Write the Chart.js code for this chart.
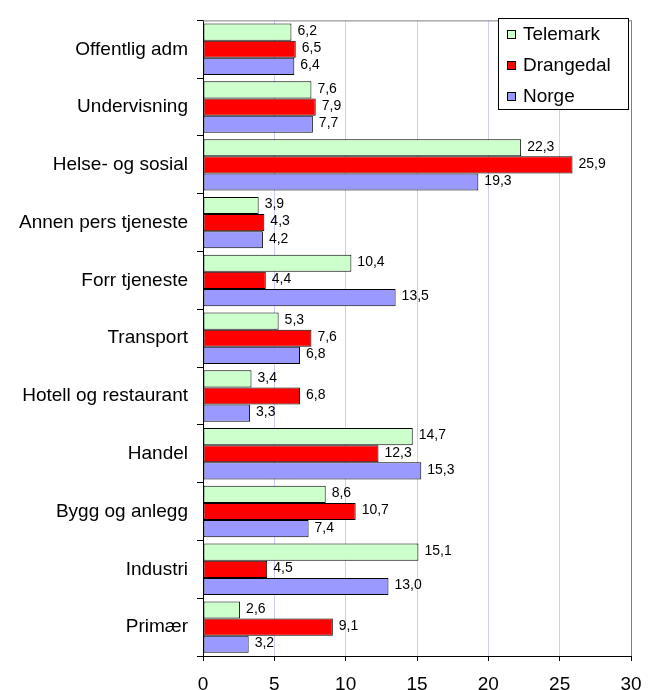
<!DOCTYPE html>
<html>
<head>
<meta charset="utf-8">
<script src="https://cdn.jsdelivr.net/npm/chart.js@4/dist/chart.umd.min.js"></script>
<style>
    html, body { margin: 0; padding: 0; background: #fff; }
    #wrap { width: 655px; height: 690px; }
</style>
</head>
<body>
<div id="wrap"><canvas id="sektorChart" width="655" height="690"></canvas></div>
<script>
// --- Datos ---
const categories = ['Offentlig adm', 'Undervisning', 'Helse- og sosial', 'Annen pers tjeneste', 'Forr tjeneste',
    'Transport', 'Hotell og restaurant', 'Handel', 'Bygg og anlegg', 'Industri', 'Primær'];
const seriesNames = ['Telemark', 'Drangedal', 'Norge'];
const telemark = [6.2, 7.6, 22.3, 3.9, 10.4, 5.3, 3.4, 14.7, 8.6, 15.1, 2.6];
const drangedal = [6.5, 7.9, 25.9, 4.3, 4.4, 7.6, 6.8, 12.3, 10.7, 4.5, 9.1];
const norge = [6.4, 7.7, 19.3, 4.2, 13.5, 6.8, 3.3, 15.3, 7.4, 13.0, 3.2];
const xTicks = [0, 5, 10, 15, 20, 25, 30];

const FONT = '"Liberation Sans", Arial, sans-serif';
const colors = ['#CCFFCC', '#FF0000', '#9999FF'];

// --- Plugins ---
// Etiquetas de valor al final de cada barra
const valueLabels = {
    id: 'valueLabels',
    afterDatasetsDraw(chart) {
        const ctx = chart.ctx;
        ctx.save();
        ctx.font = '14px ' + FONT;
        ctx.fillStyle = '#000';
        ctx.textAlign = 'left';
        ctx.textBaseline = 'middle';
        chart.data.datasets.forEach((ds, i) => {
            chart.getDatasetMeta(i).data.forEach((bar, j) => {
                const txt = ds.data[j].toFixed(1).replace('.', ',');
                ctx.fillText(txt, bar.x + 6, bar.y - 1);
            });
        });
        ctx.restore();
    }
};

// Borde gris del área de gráfico y leyenda con marco
const frameAndLegend = {
    id: 'frameAndLegend',
    beforeDatasetsDraw(chart) {
        const a = chart.chartArea;
        const ctx = chart.ctx;
        ctx.save();
        ctx.strokeStyle = '#808080';
        ctx.lineWidth = 1;
        ctx.beginPath();
        ctx.moveTo(a.left, a.top + 0.5);
        ctx.lineTo(a.right + 0.5, a.top + 0.5);
        ctx.lineTo(a.right + 0.5, a.bottom);
        ctx.stroke();
        ctx.restore();
    },
    afterDraw(chart) {
        const ctx = chart.ctx;
        const bx = 498, by = 18, bw = 130, bh = 91;
        ctx.save();
        ctx.fillStyle = '#fff';
        ctx.fillRect(bx, by, bw, bh);
        ctx.strokeStyle = '#000';
        ctx.lineWidth = 1;
        ctx.strokeRect(bx + 0.5, by + 0.5, bw, bh);
        ctx.font = '19px ' + FONT;
        ctx.textBaseline = 'middle';
        chart.data.datasets.forEach((ds, i) => {
            const cy = by + 17 + i * 31;
            ctx.fillStyle = ds.backgroundColor;
            ctx.fillRect(507, cy - 5, 9, 9);
            ctx.strokeStyle = '#000';
            ctx.strokeRect(507.5, cy - 4.5, 8, 8);
            ctx.fillStyle = '#000';
            ctx.fillText(ds.label, 523, cy);
        });
        ctx.restore();
    }
};

// --- Gráfico ---
function renderChart() {
    const ctx = document.getElementById('sektorChart').getContext('2d');
    const values = [telemark, drangedal, norge];
    new Chart(ctx, {
        type: 'bar',
        data: {
            labels: categories,
            datasets: seriesNames.map((name, i) => ({
                label: name,
                data: values[i],
                backgroundColor: colors[i],
                borderColor: '#000',
                borderWidth: 1,
                borderSkipped: false,
                categoryPercentage: 0.89,
                barPercentage: 1.0
            }))
        },
        options: {
            indexAxis: 'y',
            responsive: false,
            animation: false,
            layout: { padding: { top: 12, right: 24, left: 0, bottom: 0 } },
            scales: {
                x: {
                    min: 0,
                    max: 30,
                    afterBuildTicks(scale) {
                        scale.ticks = xTicks.map(v => ({ value: v }));
                    },
                    afterFit(scale) { scale.height = 34; },
                    grid: {
                        color: ctx => ctx.tick && ctx.tick.value === 30 ? '#808080' : '#CCCCFF',
                        tickColor: '#000',
                        tickLength: 5
                    },
                    border: { display: true, color: '#000' },
                    ticks: {
                        color: '#000',
                        font: { family: FONT, size: 19 },
                        padding: 12,
                        maxRotation: 0
                    }
                },
                y: {
                    afterFit(scale) { scale.width = 203; },
                    grid: {
                        display: true,
                        drawOnChartArea: false,
                        offset: true,
                        tickLength: 6,
                        tickColor: '#000'
                    },
                    border: { display: true, color: '#000' },
                    ticks: {
                        color: '#000',
                        font: { family: FONT, size: 19 },
                        padding: 9
                    }
                }
            },
            plugins: {
                legend: { display: false },
                tooltip: { enabled: false }
            }
        },
        plugins: [valueLabels, frameAndLegend]
    });
}

window.onload = renderChart;
</script>
</body>
</html>
